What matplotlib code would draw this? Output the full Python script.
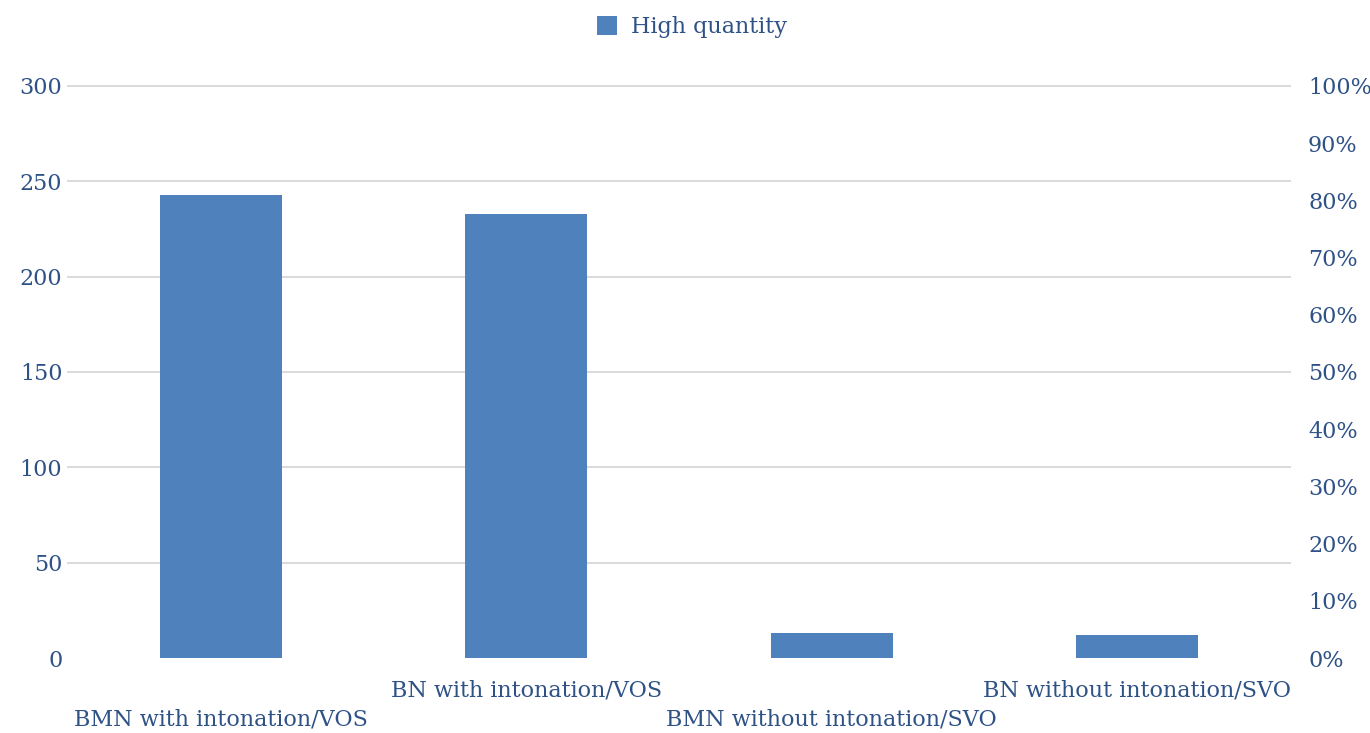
import numpy as np
import matplotlib.pyplot as plt
from matplotlib.ticker import PercentFormatter, MultipleLocator
from matplotlib.transforms import blended_transform_factory

categories = ["BMN with intonation/VOS", "BN with intonation/VOS",
              "BMN without intonation/SVO", "BN without intonation/SVO"]
high_quantity = [243, 233, 13, 12]

BAR = "#4F81BD"
TXT = "#2F5286"
GRID = "#D9D9D9"
FS = 16

plt.rcParams["font.family"] = ["DejaVu Serif"]
plt.rcParams["font.size"] = FS

fig = plt.figure(figsize=(13.7, 7.33), dpi=100)
ax = fig.add_axes([0.0496, 0.1023, 0.892, 0.7804])

x = np.arange(len(categories))
ax.bar(x, high_quantity, width=0.4, color=BAR, label="High quantity", zorder=3)

ax.set_xlim(-0.5, len(categories) - 0.5)
ax.set_ylim(0, 300)
ax.yaxis.set_major_locator(MultipleLocator(50))
for y in range(50, 301, 50):
    ax.axhline(y, color=GRID, lw=1.4, zorder=0, clip_on=False)

for s in ax.spines.values():
    s.set_visible(False)
ax.tick_params(axis="y", length=0, pad=4, labelcolor=TXT, labelsize=FS)
ax.set_xticks([])

# staggered category labels below the bars
tr = blended_transform_factory(ax.transData, ax.transAxes)
for i, lab in enumerate(categories):
    yy = -0.108 if i % 2 == 0 else -0.056
    ax.text(x[i], yy, lab, transform=tr, ha="center", va="center",
            color=TXT, fontsize=FS)

ax2 = ax.twinx()
ax2.set_ylim(0, 1)
ax2.yaxis.set_major_locator(MultipleLocator(0.1))
ax2.yaxis.set_major_formatter(PercentFormatter(1.0, decimals=0))
for s in ax2.spines.values():
    s.set_visible(False)
ax2.tick_params(axis="y", length=0, pad=13, labelcolor=TXT, labelsize=FS)

leg = fig.legend(loc="upper center", bbox_to_anchor=(0.505, 1.005), frameon=False,
                 handlelength=0.9, handleheight=0.9, handletextpad=0.6,
                 fontsize=FS)
for t in leg.get_texts():
    t.set_color(TXT)

fig.savefig("out.png", dpi=100)
